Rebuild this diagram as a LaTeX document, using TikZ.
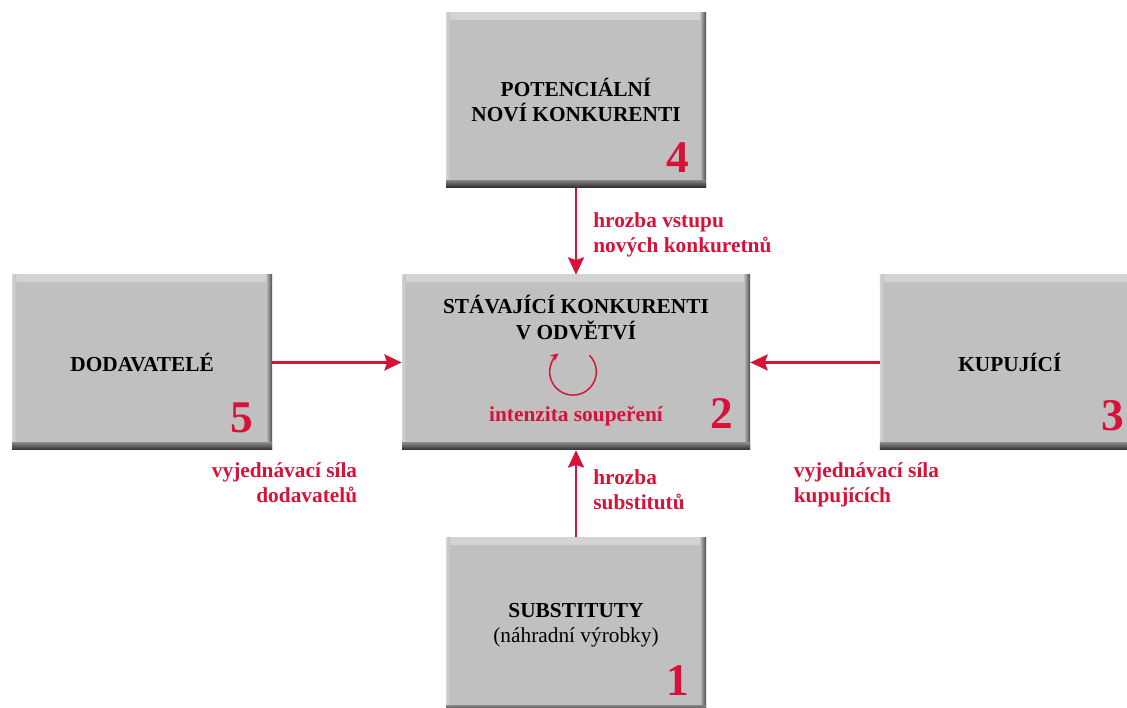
\documentclass[tikz,border=0pt]{standalone}
\usepackage{fontspec}
\setmainfont{Liberation Serif}
\usepackage{tikz}
\usetikzlibrary{arrows.meta, positioning, calc}
\definecolor{boxgray}{RGB}{192,192,192}
\definecolor{boxhi}{RGB}{212,212,212}
\definecolor{boxdark}{RGB}{45,45,45}
\definecolor{forcered}{RGB}{214,18,56}
\tikzset{
    forcebox/.style={rectangle, fill=boxgray, minimum width=195pt, minimum height=131.25pt, inner sep=0pt, align=center, font=\bfseries\fontsize{16}{19}\selectfont,
        path picture={
            \shade[top color=boxhi, bottom color=boxgray] (path picture bounding box.north west) rectangle ([yshift=-5pt]path picture bounding box.north east);
            \shade[left color=boxhi, right color=boxgray] (path picture bounding box.north west) rectangle ([xshift=3pt]path picture bounding box.south west);
            \shade[left color=boxgray, right color=boxdark!85] ([xshift=-4.5pt]path picture bounding box.north east) rectangle (path picture bounding box.south east);
            \shade[top color=boxgray!60!boxdark, bottom color=boxdark] (path picture bounding box.south west) rectangle ([yshift=5.5pt]path picture bounding box.south east);
        }},
    forcearrow/.style={-{Stealth[length=13pt, width=12pt, inset=2pt]}, draw=forcered, line width=2pt},
    spinarrow/.style={-{Stealth[length=6pt, width=5.5pt]}, draw=forcered, line width=1.1pt},
    forcelabel/.style={text=forcered, inner sep=0pt, font=\bfseries\fontsize{16}{19}\selectfont},
    forcenum/.style={text=forcered, inner sep=0pt, anchor=base east, font=\bfseries\fontsize{34}{34}\selectfont}
}

\begin{document}
\begin{tikzpicture}[node distance=65.25pt and 97pt]

\useasboundingbox (0,0) rectangle (845.25pt,530.25pt);

\node[forcebox, minimum width=261pt] (ctr) at (432pt,258.4pt) {};
\node[forcebox, above=of ctr] (pot) {POTENCIÁLNÍ\\NOVÍ KONKURENTI};
\node[forcebox, below=of ctr] (sub) {SUBSTITUTY\\{\mdseries (náhradní výrobky)}};
\node[forcebox, left=of ctr] (sup) {DODAVATELÉ};
\node[forcebox, right=of ctr] (buy) {KUPUJÍCÍ};

% inside of the industry box
\node[font=\bfseries\fontsize{16}{19}\selectfont, align=center, inner sep=0pt, below=15.5pt of ctr.north] (ctrtitle) {STÁVAJÍCÍ KONKURENTI\\V ODVĚTVÍ};
\coordinate (spin) at ([shift={(-2.25pt,-7pt)}]ctr.center);
\draw[spinarrow] ([shift={(45:17.5pt)}]spin) arc[start angle=45, end angle=-232, radius=17.5pt];
\node[forcelabel, anchor=base] (rivalry) at ([yshift=-44.6pt]ctr.center) {intenzita soupeření};

% numbers
\node[forcenum] (n1) at ([shift={(-12.5pt,13pt)}]sub.south east) {1};
\node[forcenum] (n2) at ([shift={(-12.5pt,16pt)}]ctr.south east) {2};
\node[forcenum] (n3) at ([shift={(-11.5pt,15pt)}]buy.south east) {3};
\node[forcenum] (n4) at ([shift={(-13pt,11.5pt)}]pot.south east) {4};
\node[forcenum] (n5) at ([shift={(-14pt,13.5pt)}]sup.south east) {5};

% forces
\draw[forcearrow] (pot) -- node[right=12pt, yshift=-3pt, forcelabel, align=left] {hrozba vstupu\\nových konkuretnů} (ctr);
\draw[forcearrow] (sub) -- node[right=12pt, yshift=3pt, forcelabel, align=left] {hrozba\\substitutů} (ctr);
\draw[forcearrow] (sup) -- (ctr);
\draw[forcearrow] (buy) -- (ctr);

\node[forcelabel, align=right, anchor=north east] (suplab) at ([shift={(63.75pt,-9pt)}]sup.south east) {vyjednávací síla\\dodavatelů};
\node[forcelabel, align=left, anchor=north west] (buylab) at ([shift={(-64.5pt,-9pt)}]buy.south west) {vyjednávací síla\\kupujících};

\end{tikzpicture}
\end{document}
